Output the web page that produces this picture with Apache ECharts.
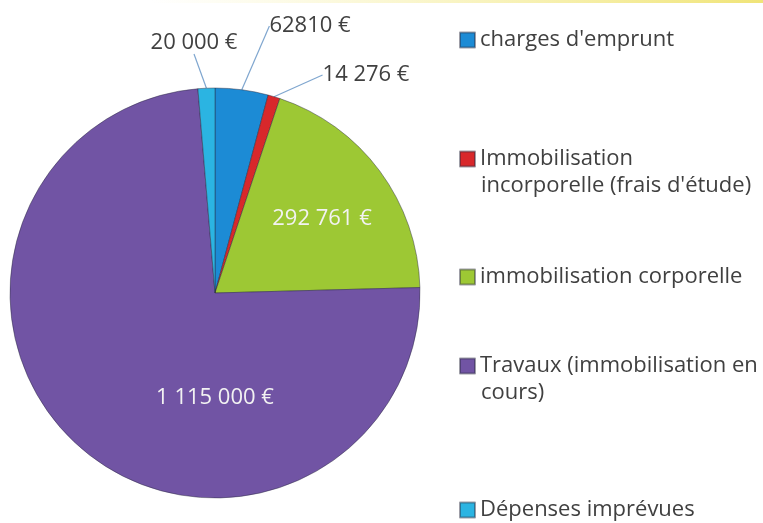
<!DOCTYPE html>
<html>
<head>
<meta charset="utf-8">
<script src="https://cdn.jsdelivr.net/npm/echarts@6/dist/echarts.min.js"></script>
<style>
html,body{margin:0;padding:0;background:#fff;}
#chart{width:763px;height:523px;}
</style>
</head>
<body>
<div id="chart"></div>
<script>
// ---- data ----
var categories = [
  "charges d'emprunt",
  "Immobilisation incorporelle (frais d'étude)",
  "immobilisation corporelle",
  "Travaux (immobilisation en cours)",
  "Dépenses imprévues"
];
var values = [62810, 14276, 292761, 1115000, 20000];
var valueLabels = ["62810 €", "14 276 €", "292 761 €", "1 115 000 €", "20 000 €"];
var legendLines = [
  ["charges d'emprunt"],
  ["Immobilisation", "incorporelle (frais d'étude)"],
  ["immobilisation corporelle"],
  ["Travaux (immobilisation en", "cours)"],
  ["Dépenses imprévues"]
];

// ---- layout / style ----
var colors = ['#1c8bd5', '#d8282b', '#9dc834', '#7154a4', '#2bb4e2'];
var FONT = '"Open Sans", Lato, sans-serif';
var FS = 22;
var labelPos = [ // label centres
  [310, 26], [366, 75], [322, 219], [215, 398], [194, 43]
];
var labelInside = [false, false, true, true, false];
var legendY = [40, 159, 277, 366, 510];
var lineGap = 27;

var chart = echarts.init(document.getElementById('chart'), null, {renderer: 'canvas'});

var data = categories.map(function (c, i) {
  return {
    name: c,
    value: values[i],
    itemStyle: {color: colors[i]},
    label: labelInside[i]
      ? {position: 'inside', color: '#f2f2f2'}
      : {position: 'outside', color: '#404040'},
    labelLine: {show: !labelInside[i]}
  };
});

var legends = legendLines.map(function (lines, i) {
  return {
    data: [categories[i]],
    left: 459,
    top: legendY[i] - 13,
    padding: 0,
    itemWidth: 15,
    itemHeight: 15,
    itemGap: 0,
    icon: 'rect',
    selectedMode: false,
    formatter: function () { return lines[0]; },
    textStyle: {fontFamily: FONT, fontSize: FS, color: '#404040', lineHeight: 26, padding: [0, 0, 0, 0]}
  };
});

var graphics = [{
  type: 'rect',
  shape: {x: 150, y: 0, width: 613, height: 3},
  style: {
    fill: new echarts.graphic.LinearGradient(0, 0, 1, 0, [
      {offset: 0, color: 'rgba(245,238,150,0)'},
      {offset: 1, color: 'rgba(240,228,120,1)'}
    ])
  },
  silent: true
}];
legendLines.forEach(function (lines, i) {
  for (var k = 1; k < lines.length; k++) {
    graphics.push({
      type: 'text',
      x: 481,
      y: legendY[i] + k * lineGap,
      style: {text: lines[k], font: FS + 'px ' + FONT, fill: '#404040', verticalAlign: 'middle', align: 'left'},
      silent: true
    });
  }
});

chart.setOption({
  backgroundColor: '#ffffff',
  animation: false,
  legend: legends,
  graphic: graphics,
  series: [{
    type: 'pie',
    center: [215, 293],
    radius: 205,
    startAngle: 90,
    clockwise: true,
    avoidLabelOverlap: false,
    data: data,
    itemStyle: {borderColor: 'rgba(40,40,60,0.45)', borderWidth: 1},
    label: {
      show: true,
      fontFamily: FONT,
      fontSize: FS,
      formatter: function (p) { return valueLabels[p.dataIndex]; }
    },
    labelLine: {show: true, length: 20, length2: 0, lineStyle: {color: '#7fa6cf', width: 1.2}},
    labelLayout: function (p) {
      var c = labelPos[p.dataIndex];
      return {x: c[0], y: c[1], align: 'center', verticalAlign: 'middle'};
    }
  }]
});
</script>
</body>
</html>
